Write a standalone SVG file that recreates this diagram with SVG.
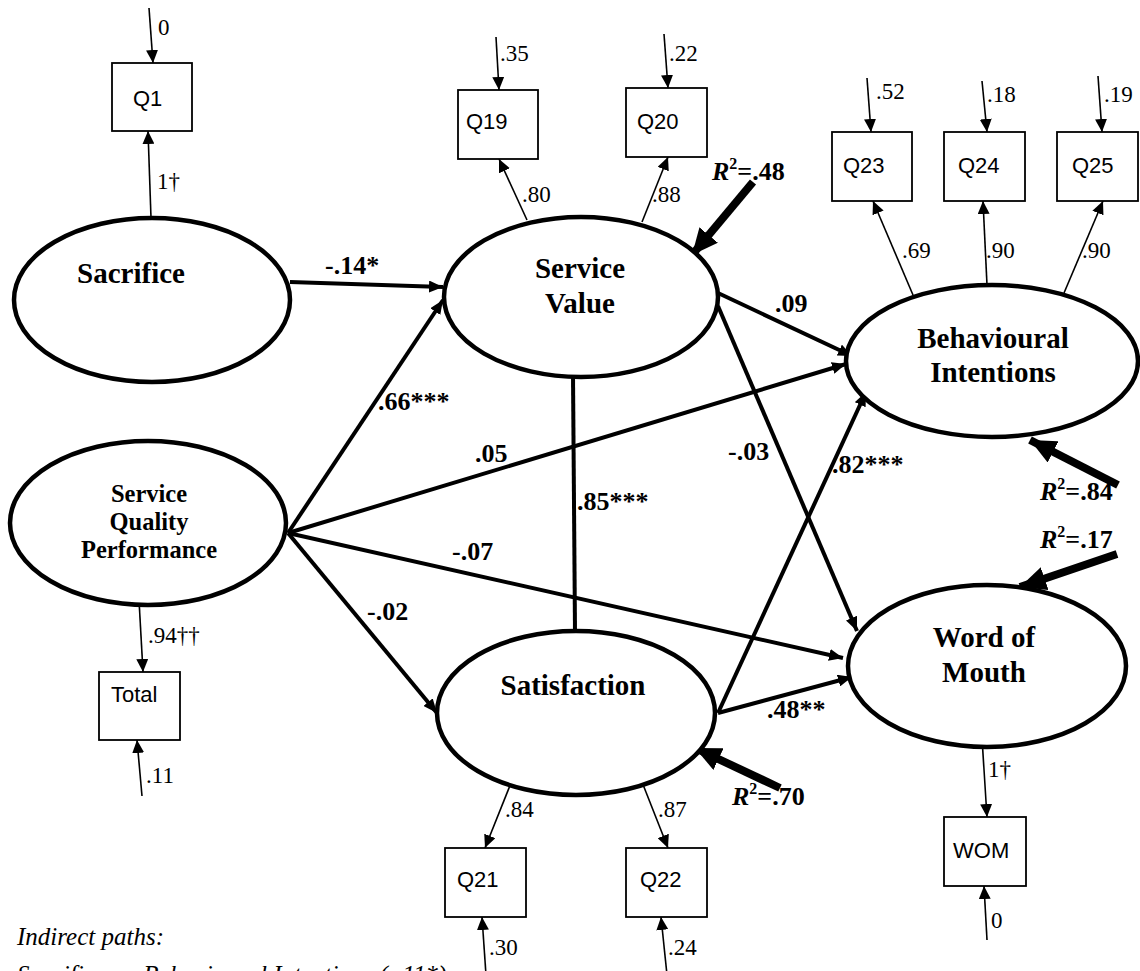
<svg xmlns="http://www.w3.org/2000/svg" width="1140" height="971" viewBox="0 0 1140 971">
<defs>
<style>
.lat{fill:#fff;stroke:#000;stroke-width:4.5}
.box{fill:#fff;stroke:#000;stroke-width:1.8}
.thin{stroke:#000;stroke-width:1.6;fill:none}
.path{stroke:#000;stroke-width:4;fill:none}
.big{stroke:#000;stroke-width:8;fill:none}
.ln{font-family:"Liberation Serif","Times New Roman",serif;font-weight:bold;font-size:29px;text-anchor:middle}
.sm{font-family:"Liberation Serif","Times New Roman",serif;font-weight:bold;font-size:24.5px;text-anchor:middle}
.el{font-family:"Liberation Serif","Times New Roman",serif;font-weight:bold;font-size:26px}
.ld{font-family:"Liberation Serif","Times New Roman",serif;font-size:23px}
.bx{font-family:"Liberation Sans",Arial,sans-serif;font-size:22px}
.note{font-family:"Liberation Serif","Times New Roman",serif;font-style:italic;font-size:25px}
</style>
<marker id="ah" markerWidth="13" markerHeight="12" refX="13" refY="6" orient="auto" markerUnits="userSpaceOnUse"><path d="M0,0 L13,6 L0,12 z" fill="#000"/></marker>
<marker id="am" markerWidth="14" markerHeight="12" refX="14" refY="6" orient="auto" markerUnits="userSpaceOnUse"><path d="M0,0 L14,6 L0,12 z" fill="#000"/></marker>
<marker id="ab" markerWidth="26" markerHeight="24" refX="26" refY="12" orient="auto" markerUnits="userSpaceOnUse"><path d="M0,0 L26,12 L0,24 z" fill="#000"/></marker>
</defs>
<rect width="1140" height="971" fill="#fff"/>

<g id="connectors">
<line class="thin" x1="149" y1="8" x2="153" y2="63" marker-end="url(#ah)"/>
<line class="thin" x1="496" y1="37" x2="499" y2="90" marker-end="url(#ah)"/>
<line class="thin" x1="664" y1="34" x2="668" y2="88" marker-end="url(#ah)"/>
<line class="thin" x1="867" y1="78" x2="871" y2="132" marker-end="url(#ah)"/>
<line class="thin" x1="982" y1="81" x2="987" y2="132" marker-end="url(#ah)"/>
<line class="thin" x1="1098" y1="76" x2="1102" y2="132" marker-end="url(#ah)"/>
<line class="thin" x1="142" y1="796" x2="137" y2="740" marker-end="url(#ah)"/>
<line class="thin" x1="486" y1="975" x2="482" y2="917" marker-end="url(#ah)"/>
<line class="thin" x1="667" y1="975" x2="661" y2="917" marker-end="url(#ah)"/>
<line class="thin" x1="987" y1="940" x2="984" y2="886" marker-end="url(#ah)"/>
<line class="thin" x1="151" y1="218" x2="148" y2="131" marker-end="url(#ah)"/>
<line class="thin" x1="527" y1="220" x2="499" y2="159" marker-end="url(#ah)"/>
<line class="thin" x1="642" y1="222" x2="668" y2="157" marker-end="url(#ah)"/>
<line class="thin" x1="913" y1="295" x2="873" y2="201" marker-end="url(#ah)"/>
<line class="thin" x1="987" y1="285" x2="983" y2="201" marker-end="url(#ah)"/>
<line class="thin" x1="1064" y1="293" x2="1103" y2="201" marker-end="url(#ah)"/>
<line class="thin" x1="139" y1="600" x2="143" y2="672" marker-end="url(#ah)"/>
<line class="thin" x1="513" y1="778" x2="485" y2="848" marker-end="url(#ah)"/>
<line class="thin" x1="642" y1="782" x2="668" y2="848" marker-end="url(#ah)"/>
<line class="thin" x1="982" y1="738" x2="987" y2="817" marker-end="url(#ah)"/>
<line class="path" x1="290" y1="282" x2="443" y2="287" marker-end="url(#am)"/>
<line class="path" x1="288" y1="533" x2="443" y2="300" marker-end="url(#am)"/>
<line class="path" x1="288" y1="533" x2="846" y2="364" marker-end="url(#am)"/>
<line class="path" x1="288" y1="533" x2="843" y2="658" marker-end="url(#am)"/>
<line class="path" x1="288" y1="533" x2="437" y2="713" marker-end="url(#am)"/>
<line class="path" x1="573" y1="375" x2="575" y2="631"/>
<line class="path" x1="718" y1="293" x2="852" y2="356" marker-end="url(#am)"/>
<line class="path" x1="718" y1="306" x2="857" y2="631" marker-end="url(#am)"/>
<line class="path" x1="718" y1="713" x2="866" y2="392" marker-end="url(#am)"/>
<line class="path" x1="718" y1="713" x2="852" y2="677" marker-end="url(#am)"/>
<line class="big" x1="753" y1="182" x2="692" y2="255" marker-end="url(#ab)"/>
<line class="big" x1="1118" y1="485" x2="1030" y2="440" marker-end="url(#ab)"/>
<line class="big" x1="1117" y1="554" x2="1020" y2="587" marker-end="url(#ab)"/>
<line class="big" x1="780" y1="788" x2="695" y2="748" marker-end="url(#ab)"/>
</g>

<g id="node-sacrifice">
<ellipse class="lat" cx="152" cy="300" rx="138" ry="82"/>
<text class="ln" x="131" y="283">Sacrifice</text>
</g>
<g id="node-service-value">
<ellipse class="lat" cx="581" cy="297" rx="137" ry="80"/>
<text class="ln" x="580" y="278">Service</text>
<text class="ln" x="580" y="313">Value</text>
</g>
<g id="node-sqp">
<ellipse class="lat" cx="148" cy="523" rx="138" ry="82"/>
<text class="sm" x="149" y="502">Service</text>
<text class="sm" x="149" y="530">Quality</text>
<text class="sm" x="149" y="558">Performance</text>
</g>
<g id="node-satisfaction">
<ellipse class="lat" cx="576" cy="713" rx="139" ry="82"/>
<text class="ln" x="573" y="695">Satisfaction</text>
</g>
<g id="node-bi">
<ellipse class="lat" cx="992" cy="361" rx="146" ry="76"/>
<text class="ln" x="993" y="348">Behavioural</text>
<text class="ln" x="993" y="382">Intentions</text>
</g>
<g id="node-wom">
<ellipse class="lat" cx="987" cy="666" rx="139" ry="81"/>
<text class="ln" x="984" y="647">Word of</text>
<text class="ln" x="984" y="682">Mouth</text>
</g>

<g id="node-q1"><rect class="box" x="112" y="63" width="80" height="68"/><text class="bx" x="133" y="106">Q1</text></g>
<g id="node-q19"><rect class="box" x="458" y="90" width="80" height="69"/><text class="bx" x="466" y="129">Q19</text></g>
<g id="node-q20"><rect class="box" x="626" y="88" width="81" height="69"/><text class="bx" x="637" y="129">Q20</text></g>
<g id="node-q23"><rect class="box" x="832" y="132" width="80" height="69"/><text class="bx" x="843" y="173">Q23</text></g>
<g id="node-q24"><rect class="box" x="944" y="132" width="81" height="69"/><text class="bx" x="958" y="173">Q24</text></g>
<g id="node-q25"><rect class="box" x="1057" y="132" width="81" height="69"/><text class="bx" x="1072" y="173">Q25</text></g>
<g id="node-total"><rect class="box" x="99" y="672" width="81" height="68"/><text class="bx" x="111" y="702">Total</text></g>
<g id="node-q21"><rect class="box" x="445" y="848" width="81" height="69"/><text class="bx" x="457" y="887">Q21</text></g>
<g id="node-q22"><rect class="box" x="626" y="848" width="81" height="69"/><text class="bx" x="640" y="887">Q22</text></g>
<g id="node-wom-item"><rect class="box" x="944" y="817" width="82" height="69"/><text class="bx" x="953" y="858">WOM</text></g>

<g id="labels">
<text class="ld" x="158" y="35">0</text>
<text class="ld" x="157" y="189">1†</text>
<text class="ld" x="500" y="61">.35</text>
<text class="ld" x="669" y="61">.22</text>
<text class="ld" x="522" y="202">.80</text>
<text class="ld" x="652" y="202">.88</text>
<text class="ld" x="876" y="99">.52</text>
<text class="ld" x="987" y="102">.18</text>
<text class="ld" x="1104" y="102">.19</text>
<text class="ld" x="902" y="258">.69</text>
<text class="ld" x="986" y="258">.90</text>
<text class="ld" x="1082" y="258">.90</text>
<text class="ld" x="148" y="643">.94††</text>
<text class="ld" x="146" y="783">.11</text>
<text class="ld" x="505" y="817">.84</text>
<text class="ld" x="658" y="817">.87</text>
<text class="ld" x="489" y="955">.30</text>
<text class="ld" x="668" y="955">.24</text>
<text class="ld" x="988" y="777">1†</text>
<text class="ld" x="991" y="928">0</text>

<text class="el" x="325" y="274">-.14*</text>
<text class="el" x="378" y="410">.66***</text>
<text class="el" x="475" y="462">.05</text>
<text class="el" x="452" y="560">-.07</text>
<text class="el" x="367" y="620">-.02</text>
<text class="el" x="577" y="510">.85***</text>
<text class="el" x="775" y="312">.09</text>
<text class="el" x="728" y="460">-.03</text>
<text class="el" x="832" y="473">.82***</text>
<text class="el" x="767" y="718">.48**</text>

<text class="el" x="712" y="180"><tspan font-style="italic">R</tspan><tspan dy="-11" font-size="16">2</tspan><tspan dy="11">=.48</tspan></text>
<text class="el" x="1040" y="500"><tspan font-style="italic">R</tspan><tspan dy="-11" font-size="16">2</tspan><tspan dy="11">=.84</tspan></text>
<text class="el" x="1040" y="548"><tspan font-style="italic">R</tspan><tspan dy="-11" font-size="16">2</tspan><tspan dy="11">=.17</tspan></text>
<text class="el" x="732" y="805"><tspan font-style="italic">R</tspan><tspan dy="-11" font-size="16">2</tspan><tspan dy="11">=.70</tspan></text>

<text class="note" x="17" y="945">Indirect paths:</text>
<text class="note" x="17" y="983">Sacrifice → Behavioural Intentions (-.11*)</text>
</g>
</svg>
